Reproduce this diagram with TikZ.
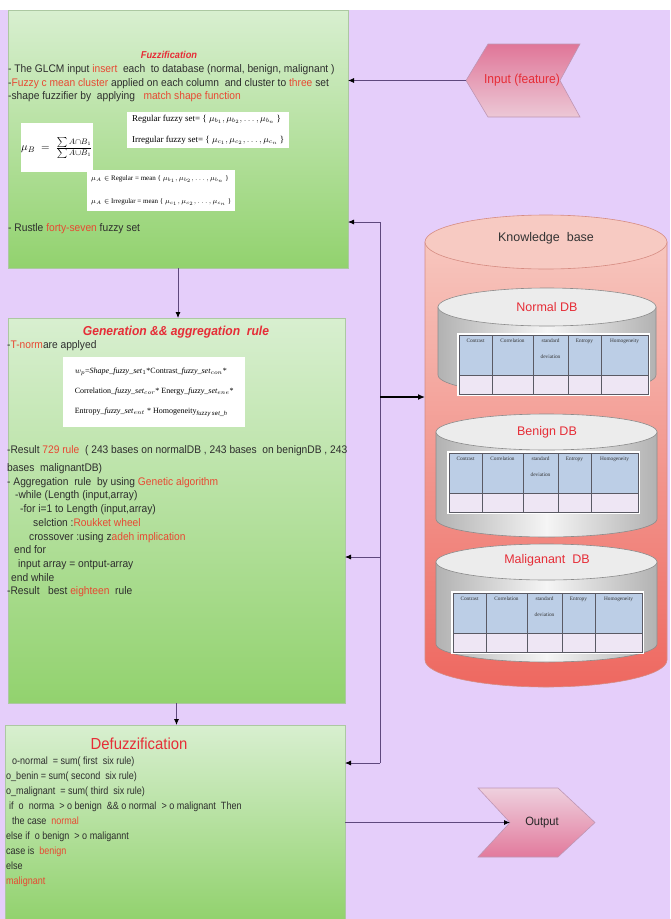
\documentclass[tikz,border=0pt]{standalone}
\usepackage{fontspec}
\setmainfont{Liberation Sans}[FakeStretch=0.93]
\newfontfamily\narrowf{Liberation Sans}[FakeStretch=0.86]
\newfontfamily\plainsans{Liberation Sans}
\newfontfamily\tms{Liberation Serif}
\usetikzlibrary{arrows.meta,calc}

\definecolor{bglav}{RGB}{229,206,250}
\definecolor{gtop}{RGB}{216,239,208}
\definecolor{gbot}{RGB}{146,210,110}
\definecolor{gline}{RGB}{172,200,162}
\definecolor{hlred}{RGB}{232,72,50}
\definecolor{ttlred}{RGB}{230,45,55}
\definecolor{txtc}{RGB}{45,45,45}
\definecolor{conn}{RGB}{95,72,125}
\definecolor{kbtop}{RGB}{247,198,190}
\definecolor{kbbot}{RGB}{238,104,96}
\definecolor{kbcap}{RGB}{247,202,194}
\definecolor{kbline}{RGB}{214,140,130}
\definecolor{dbedge}{RGB}{178,178,178}
\definecolor{dbmid}{RGB}{245,245,245}
\definecolor{dbcap}{RGB}{236,236,236}
\definecolor{dbline}{RGB}{140,140,140}
\definecolor{thead}{RGB}{188,206,230}
\definecolor{trow}{RGB}{238,230,244}
\definecolor{tgrid}{RGB}{90,90,100}
\definecolor{intop}{RGB}{224,118,152}
\definecolor{inbot}{RGB}{236,200,214}
\definecolor{outtop}{RGB}{238,208,222}
\definecolor{outbot}{RGB}{226,122,156}
\definecolor{chevline}{RGB}{190,150,180}

\newcommand\hl[1]{\textcolor{hlred}{#1}}

\tikzset{
  gbox/.style={draw=gline, line width=0.8pt, top color=gtop, bottom color=gbot,
    anchor=north west, inner sep=0pt, outer sep=0pt},
  ln/.style={anchor=base west, inner sep=0pt, text=txtc,
    font=\fontsize{11}{12}\selectfont},
  lnb/.style={anchor=base west, inner sep=0pt, text=txtc,
    font=\narrowf\fontsize{10.5}{12}\selectfont},
  wbox/.style={fill=white, draw=none, anchor=north west, align=left},
  arr/.style={draw=conn, line width=0.8pt, -{Latex[length=6pt,width=5pt,color=black]}},
  tcell/.style={inner sep=0pt, anchor=north, text=black!80,
    font=\tms\fontsize{5.3}{6}\selectfont},
  dbttl/.style={text=ttlred, font=\plainsans\fontsize{12.5}{14}\selectfont},
}

% table: #1 prefix, #2 x, #3 y
\newcommand\dbtable[3]{%
  \begin{scope}[shift={(#2,#3)}]
    \fill[thead] (0,0) rectangle (189,40);
    \fill[trow] (0,40) rectangle (189,59);
    \draw[white, line width=1.6pt] (-1,-1) rectangle (190,60);
    \draw[tgrid, line width=0.5pt] (0,0) rectangle (189,59) (0,40) -- (189,40)
      (33,0) -- (33,59) (74,0) -- (74,59) (109,0) -- (109,59) (142,0) -- (142,59);
    \node[tcell] (#1c1) at (16.5,4) {Contrast};
    \node[tcell] (#1c2) at (53.5,4) {Correlation};
    \node[tcell] (#1c3) at (91.5,4) {standard};
    \node[tcell] (#1c3b) at (91.5,20) {deviation};
    \node[tcell] (#1c4) at (125.5,4) {Entropy};
    \node[tcell] (#1c5) at (165.5,4) {Homogeneity};
  \end{scope}}

% cylinder: #1 left x, #2 right x, #3 top centre y, #4 bottom centre y, #5 ry
\newcommand\dbcyl[5]{%
  \path[draw=dbline, line width=0.6pt, left color=dbedge, right color=dbedge, middle color=dbmid]
    (#1,#3) -- (#1,#4) arc[start angle=180, end angle=0, x radius={(#2-#1)/2}, y radius=#5]
    -- (#2,#3) -- cycle;
  \draw[dbline, line width=0.6pt, fill=dbcap] ({(#1+#2)/2},#3) ellipse[x radius={(#2-#1)/2}, y radius=#5];}

\begin{document}
\begin{tikzpicture}[x=1pt,y=-1pt]
\useasboundingbox (0,0) rectangle (670,919);
\fill[white] (0,0) rectangle (670,919);
\fill[bglav] (0,10) rectangle (670,919);

% ---------- main boxes ----------
\node[gbox, minimum width=340pt, minimum height=258pt] (fuzz) at (8,10) {};
\node[gbox, minimum width=337pt, minimum height=385pt] (gen) at (8,318) {};
\node[gbox, minimum width=340pt, minimum height=194pt] (defuzz) at (5,725) {};

% ---------- Fuzzification text ----------
\node[text=ttlred, font=\fontsize{10}{12}\selectfont\bfseries\itshape] (fzt) at (169,55) {Fuzzification};
\node[ln] (fz1) at (8,72) {- The GLCM input \hl{insert}~ each~ to database (normal, benign, malignant )};
\node[ln] (fz2) at (8,86) {-\hl{Fuzzy c mean cluster} applied on each column~ and cluster to \hl{three} set};
\node[ln] (fz3) at (8,99) {-shape fuzzifier by~ applying~~ \hl{match shape function}};
\node[wbox, minimum width=67pt, minimum height=49pt, inner sep=0pt, align=center,
  font=\fontsize{11}{12}\selectfont] (fa) at (21,123)
  {$\mu_B\;=\;\frac{\sum A\cap B_1}{\sum A\cup B_1}$};
\node[wbox, inner xsep=2pt, inner ysep=3pt, minimum width=162pt,
  font=\tms\fontsize{9}{21}\selectfont] (fb) at (127,112)
  {Regular fuzzy set= \{ $\mu_{b_1},\mu_{b_2},\dots,\mu_{b_n}$ \}\\
   Irregular fuzzy set= \{ $\mu_{c_1},\mu_{c_2},\dots,\mu_{c_n}$ \}};
\node[wbox, inner xsep=4pt, inner ysep=5pt, minimum width=145pt,
  font=\tms\fontsize{7}{23}\selectfont] (fc) at (87,170)
  {$\mu_A\in$ Regular = mean \{ $\mu_{b_1},\mu_{b_2},\dots,\mu_{b_n}$ \}\\
   $\mu_A\in$ Irregular = mean \{ $\mu_{c_1},\mu_{c_2},\dots,\mu_{c_n}$ \}};
\node[ln] (fz4) at (8,231) {- Rustle \hl{forty-seven} fuzzy set};

% ---------- Generation text ----------
\node[text=ttlred, font=\fontsize{13}{15}\selectfont\bfseries\itshape] (gnt) at (176,332) {Generation \&\& aggregation~ rule};
\node[ln] (g1) at (7,348) {-\hl{T-norm}are applyed};
\node[wbox, inner xsep=8pt, inner ysep=5pt, minimum width=182pt, minimum height=70pt,
  font=\tms\fontsize{8}{20}\selectfont] (gf) at (63,357)
  {$w_p$=\textit{Shape\_fuzzy\_set}$_1$*Contrast\textit{\_fuzzy\_set}$_{con}$*\\
   Correlation\textit{\_fuzzy\_set}$_{cor}$* Energy\textit{\_fuzzy\_set}$_{ene}$*\\
   Entropy\textit{\_fuzzy\_set}$_{ent}$ * Homogeneity$_{\mathit{fuzzy\,set\_h}}$};
\node[ln] (g2) at (7,453) {-Result \hl{729 rule}~ ( 243 bases on normalDB , 243 bases~ on benignDB , 243};
\node[ln] (g3) at (7,471) {bases~ malignantDB)};
\node[ln] (g4) at (7,485) {- Aggregation~ rule~ by using \hl{Genetic algorithm}};
\node[ln] (g5) at (15,498) {-while (Length (input,array)};
\node[ln] (g6) at (20,512) {-for i=1 to Length (input,array)};
\node[ln] (g7) at (33,526) {selction :\hl{Roukket wheel}};
\node[ln] (g8) at (29,540) {crossover :using z\hl{adeh implication}};
\node[ln] (g9) at (14,553) {end for};
\node[ln] (g10) at (18,567) {input array = ontput-array};
\node[ln] (g11) at (11,581) {end while};
\node[ln] (g12) at (7,594) {-Result~~ best \hl{eighteen}~ rule};

% ---------- Defuzzification text ----------
\node[text=ttlred, font=\fontsize{16}{18}\selectfont] (dft) at (139,744) {Defuzzification};
\node[lnb] (d1) at (12,764) {o-normal~ = sum( first~ six rule)};
\node[lnb] (d2) at (6,779) {o\_benin = sum( second~ six rule)};
\node[lnb] (d3) at (6,794) {o\_malignant~ = sum( third~ six rule)};
\node[lnb] (d4) at (9,809) {if~ o~ norma~ > o benign~ \&\& o normal~ > o malignant~ Then};
\node[lnb] (d5) at (12,824) {the case~ \hl{normal}};
\node[lnb] (d6) at (6,839) {else if~ o benign~ > o maligannt};
\node[lnb] (d7) at (6,854) {case is~ \hl{benign}};
\node[lnb] (d8) at (6,869) {else};
\node[lnb] (d9) at (6,884) {\hl{malignant}};

% ---------- Knowledge base ----------
\path[draw=kbline, line width=0.6pt, top color=kbtop, bottom color=kbbot]
  (425,242) -- (425,660) arc[start angle=180, end angle=0, x radius=121, y radius=27] -- (667,242) -- cycle;
\draw[kbline, line width=0.6pt, fill=kbcap] (546,242) ellipse[x radius=121, y radius=27];
\node[text=black!80, font=\plainsans\fontsize{12.5}{14}\selectfont] (kbt) at (546,238) {Knowledge~ base};

\dbcyl{438}{656}{307}{375}{19}
\node[dbttl] (ndb) at (547,307) {Normal DB};
\dbtable{nt}{459}{335}

\dbcyl{436}{657}{432}{519}{18}
\node[dbttl] (bdb) at (547,432) {Benign DB};
\dbtable{bt}{449}{453}

\dbcyl{436}{657}{562}{644}{18}
\node[dbttl] (mdb) at (547,560) {Maliganant~ DB};
\dbtable{mt}{453}{593}

% ---------- chevrons ----------
\path[draw=chevline, line width=0.6pt, top color=intop, bottom color=inbot]
  (466,80.5) -- (488,44) -- (580,44) -- (560,80.5) -- (580,117) -- (488,117) -- cycle;
\coordinate (inptip) at (466,80.5);
\node[text=ttlred, font=\fontsize{13}{15}\selectfont] (inpt) at (522,80.5) {Input (feature)};

\path[draw=chevline, line width=0.6pt, top color=outtop, bottom color=outbot]
  (478,788) -- (558,788) -- (595,822.5) -- (558,857) -- (478,857) -- (510,822.5) -- cycle;
\coordinate (outnotch) at (510,822.5);
\node[text=black!85, font=\fontsize{12}{14}\selectfont] (outt) at (542,822.5) {Output};

% ---------- connectors ----------
\draw[arr] (inptip) -- (fuzz.east |- inptip);
\draw[arr] (fuzz.south) -- (fuzz.south |- gen.north);
\draw[arr] (gen.south) -- (gen.south |- defuzz.north);
\coordinate (bt) at (380,222);
\coordinate (bk) at (380,397);
\coordinate (bm) at (380,557);
\coordinate (bb) at (380,763);
\draw[draw=conn, line width=0.8pt] (bt) -- (bb);
\draw[arr] (bt) -- (fuzz.east |- bt);
\draw[arr] (bm) -- (gen.east |- bm);
\draw[arr] (bb) -- (defuzz.east |- bb);
\draw[line width=1.3pt, black, -{Latex[length=7pt,width=6pt]}] (bk) -- (425,397);
\draw[arr] (defuzz.east |- outnotch) -- (outnotch);
\end{tikzpicture}
\end{document}
